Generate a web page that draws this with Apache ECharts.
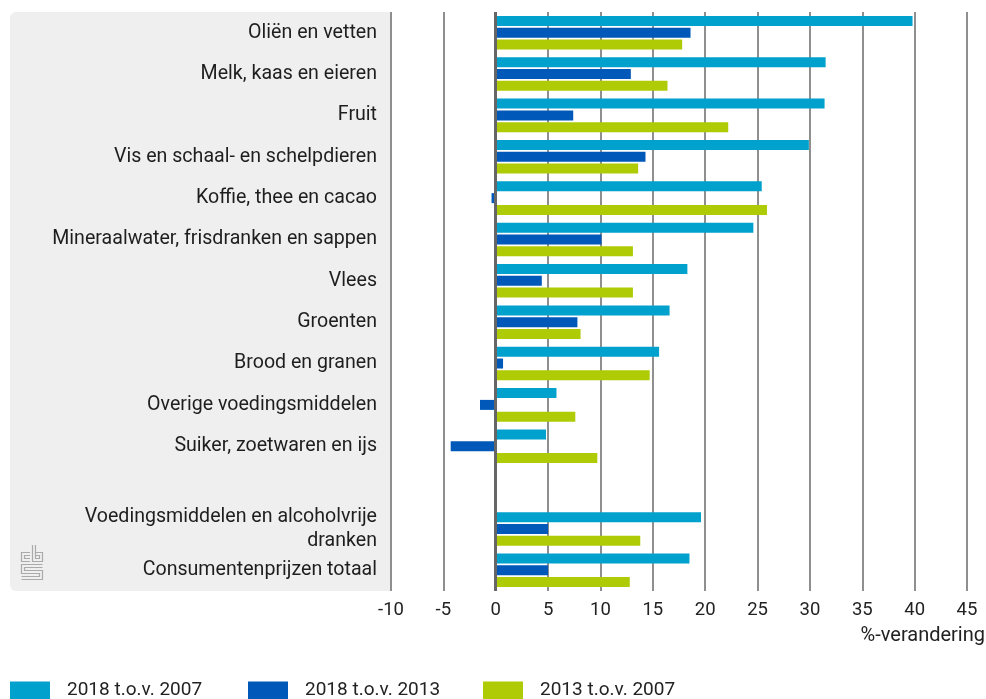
<!DOCTYPE html>
<html>
<head>
<meta charset="utf-8">
<script src="https://cdn.jsdelivr.net/npm/echarts@6/dist/echarts.min.js"></script>
<style>
html,body{margin:0;padding:0;background:#fff;}
#chart{width:986px;height:699px;}
</style>
</head>
<body>
<div id="chart"></div>
<script>
const categories = [
  'Oliën en vetten',
  'Melk, kaas en eieren',
  'Fruit',
  'Vis en schaal- en schelpdieren',
  'Koffie, thee en cacao',
  'Mineraalwater, frisdranken en sappen',
  'Vlees',
  'Groenten',
  'Brood en granen',
  'Overige voedingsmiddelen',
  'Suiker, zoetwaren en ijs',
  '',
  'Voedingsmiddelen en alcoholvrije\ndranken',
  'Consumentenprijzen totaal'
];
const seriesNames = ['2018 t.o.v. 2007', '2018 t.o.v. 2013', '2013 t.o.v. 2007'];
const s2018v2007 = [39.8, 31.5, 31.4, 29.9, 25.4, 24.6, 18.3, 16.6, 15.6, 5.8, 4.8, null, 19.6, 18.5];
const s2018v2013 = [18.6, 12.9, 7.4, 14.3, -0.4, 10.1, 4.4, 7.8, 0.7, -1.5, -4.3, null, 5.0, 5.0];
const s2013v2007 = [17.8, 16.4, 22.2, 13.6, 25.9, 13.1, 13.1, 8.1, 14.7, 7.6, 9.7, null, 13.8, 12.8];
const axisName = '%-verandering';
const colors = ['#00a1cd', '#0058b8', '#afcb05'];

const FONT = 'Roboto';
const chart = echarts.init(document.getElementById('chart'), null, {renderer: 'canvas'});

function bar(name, data, color, withZero) {
  const s = {
    name: name,
    type: 'bar',
    data: data,
    barWidth: 10,
    barGap: '18%',
    itemStyle: {color: color},
    emphasis: {disabled: true},
    z: 3
  };
  if (withZero) {
    s.markLine = {
      silent: true,
      symbol: 'none',
      label: {show: false},
      lineStyle: {color: '#666', width: 3, type: 'solid'},
      data: [{xAxis: 0}],
      z: 5
    };
  }
  return s;
}

const legendBase = {
  top: 676,
  itemWidth: 40,
  itemHeight: 18,
  icon: 'rect',
  selectedMode: false,
  textStyle: {fontFamily: FONT, fontSize: 19, color: '#222', padding: [0, 0, 0, 12]}
};

chart.setOption({
  animation: false,
  backgroundColor: '#fff',
  color: colors,
  textStyle: {fontFamily: FONT},
  grid: {left: 391, right: 19, top: 12, bottom: 108, containLabel: false, outerBoundsMode: 'none'},
  legend: [
    Object.assign({}, legendBase, {left: 5, data: [seriesNames[0]]}),
    Object.assign({}, legendBase, {left: 243, data: [seriesNames[1]]}),
    Object.assign({}, legendBase, {left: 478, data: [seriesNames[2]]})
  ],
  xAxis: {
    type: 'value',
    min: -10,
    max: 45,
    interval: 5,
    axisLine: {show: false},
    axisTick: {show: false},
    splitLine: {show: true, lineStyle: {color: '#8f8f8f', width: 2}},
    axisLabel: {fontFamily: FONT, fontSize: 18.5, color: '#222', margin: 10}
  },
  yAxis: {
    type: 'category',
    data: categories,
    inverse: true,
    axisLine: {show: false},
    axisTick: {show: false},
    splitLine: {show: false},
    axisLabel: {fontFamily: FONT, fontSize: 19.6, color: '#1e1e1e', margin: 14, lineHeight: 24, interval: 0}
  },
  graphic: [
    {
      type: 'rect', z: -10, silent: true,
      shape: {x: 10, y: 12, width: 381, height: 579, r: [6, 0, 0, 6]},
      style: {fill: '#efefef'}
    },
    {
      type: 'text', silent: true,
      right: 1, top: 626,
      style: {text: axisName, fontFamily: FONT, fontSize: 20, fill: '#222'}
    },
    {
      type: 'group', silent: true, z: -5,
      children: [
        {type: 'polyline', shape: {points: [[30,552.5],[21.5,552.5],[21.5,561.5],[30,561.5]]}, style: {stroke: '#aaa', lineWidth: 1.2, fill: null}},
        {type: 'polyline', shape: {points: [[30,555.5],[24.5,555.5],[24.5,558.5],[30,558.5]]}, style: {stroke: '#aaa', lineWidth: 1.2, fill: null}},
        {type: 'polyline', shape: {points: [[32.5,545],[32.5,561.5],[42.5,561.5],[42.5,552.5],[35.5,552.5]]}, style: {stroke: '#aaa', lineWidth: 1.2, fill: null}},
        {type: 'polyline', shape: {points: [[35.5,545],[35.5,558.5],[39.5,558.5],[39.5,555.5],[35.5,555.5]]}, style: {stroke: '#aaa', lineWidth: 1.2, fill: null}},
        {type: 'polyline', shape: {points: [[42.5,564.5],[21.5,564.5],[21.5,573.5],[39.5,573.5],[39.5,576.5],[21.5,576.5]]}, style: {stroke: '#aaa', lineWidth: 1.2, fill: null}},
        {type: 'polyline', shape: {points: [[42.5,567.5],[24.5,567.5],[24.5,570.5],[42.5,570.5],[42.5,579.5],[21.5,579.5]]}, style: {stroke: '#aaa', lineWidth: 1.2, fill: null}}
      ]
    }
  ],
  series: [
    bar(seriesNames[0], s2018v2007, colors[0], true),
    bar(seriesNames[1], s2018v2013, colors[1], false),
    bar(seriesNames[2], s2013v2007, colors[2], false)
  ]
});
</script>
</body>
</html>
